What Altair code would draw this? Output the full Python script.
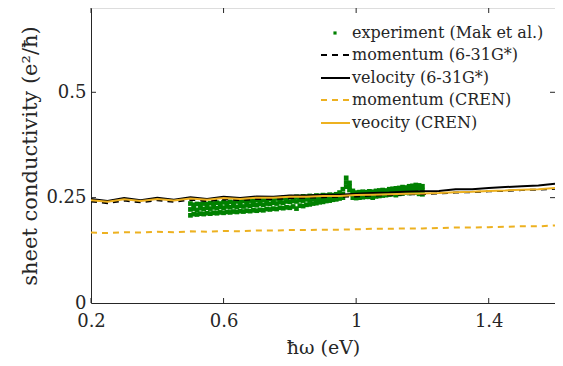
import altair as alt
import pandas as pd

# ---------------- data ----------------
x_calc = [0.20, 0.25, 0.30, 0.35, 0.40, 0.45, 0.50, 0.55, 0.60, 0.65, 0.70, 0.75,
          0.80, 0.85, 0.90, 0.95, 1.00, 1.05, 1.10, 1.15, 1.20, 1.25, 1.30, 1.35,
          1.40, 1.45, 1.50, 1.55, 1.60]
vel_631 = [0.247, 0.242, 0.249, 0.244, 0.250, 0.245, 0.251, 0.247, 0.252, 0.249, 0.253, 0.252,
           0.255, 0.255, 0.257, 0.257, 0.259, 0.261, 0.262, 0.264, 0.265, 0.266, 0.270, 0.270,
           0.273, 0.275, 0.277, 0.279, 0.283]
mom_631 = [0.241, 0.237, 0.243, 0.239, 0.244, 0.240, 0.245, 0.242, 0.246, 0.244, 0.247, 0.247,
           0.249, 0.250, 0.251, 0.252, 0.253, 0.255, 0.256, 0.258, 0.258, 0.260, 0.262, 0.263,
           0.265, 0.266, 0.268, 0.269, 0.271]
vel_cren = [0.244, 0.240, 0.246, 0.242, 0.247, 0.243, 0.248, 0.245, 0.249, 0.247, 0.250, 0.250,
            0.252, 0.252, 0.254, 0.254, 0.256, 0.257, 0.258, 0.259, 0.260, 0.261, 0.263, 0.264,
            0.266, 0.267, 0.269, 0.270, 0.273]
mom_cren = [0.167, 0.166, 0.168, 0.167, 0.169, 0.168, 0.170, 0.169, 0.171, 0.170, 0.172, 0.172,
            0.173, 0.173, 0.174, 0.174, 0.175, 0.176, 0.176, 0.177, 0.177, 0.178, 0.179, 0.179,
            0.180, 0.181, 0.182, 0.182, 0.184]

exp_x = [0.50, 0.51, 0.52, 0.53, 0.54, 0.55, 0.56, 0.57, 0.58, 0.59, 0.60, 0.61, 0.62, 0.63,
         0.64, 0.65, 0.66, 0.67, 0.68, 0.69, 0.70, 0.71, 0.72, 0.73, 0.74, 0.75, 0.76, 0.77,
         0.78, 0.79, 0.80, 0.81, 0.82, 0.83, 0.84, 0.85, 0.86, 0.87, 0.88, 0.89, 0.90, 0.91,
         0.92, 0.93, 0.94, 0.95, 0.96, 0.97, 0.98, 0.99, 1.00, 1.01, 1.02, 1.03, 1.04, 1.05,
         1.06, 1.07, 1.08, 1.09, 1.10, 1.11, 1.12, 1.13, 1.14, 1.15, 1.16, 1.17, 1.18, 1.19, 1.20]
exp_hi = [0.236, 0.233, 0.235, 0.234, 0.236, 0.235, 0.237, 0.236, 0.238, 0.236, 0.239, 0.237,
          0.240, 0.238, 0.241, 0.240, 0.242, 0.240, 0.243, 0.242, 0.244, 0.243, 0.245, 0.244,
          0.247, 0.245, 0.248, 0.247, 0.249, 0.248, 0.251, 0.250, 0.252, 0.251, 0.253, 0.252,
          0.254, 0.253, 0.255, 0.254, 0.256, 0.255, 0.257, 0.256, 0.258, 0.262, 0.270, 0.297,
          0.285, 0.266, 0.262, 0.263, 0.264, 0.263, 0.265, 0.264, 0.266, 0.267, 0.268, 0.267,
          0.270, 0.271, 0.272, 0.273, 0.275, 0.274, 0.277, 0.278, 0.280, 0.279, 0.277]
exp_mid = [0.222, 0.224, 0.221, 0.225, 0.223, 0.226, 0.224, 0.227, 0.225, 0.228, 0.226, 0.229,
           0.227, 0.230, 0.228, 0.231, 0.229, 0.232, 0.231, 0.233, 0.232, 0.235, 0.233, 0.236,
           0.235, 0.238, 0.236, 0.239, 0.238, 0.241, 0.240, 0.242, 0.241, 0.244, 0.243, 0.246,
           0.245, 0.247, 0.246, 0.249, 0.248, 0.250, 0.249, 0.252, 0.251, 0.254, 0.258, 0.286,
           0.276, 0.258, 0.255, 0.257, 0.256, 0.258, 0.257, 0.260, 0.259, 0.261, 0.260, 0.263,
           0.262, 0.265, 0.264, 0.267, 0.266, 0.269, 0.268, 0.271, 0.270, 0.272, 0.268]
exp_lo = [0.208, 0.211, 0.210, 0.212, 0.211, 0.213, 0.212, 0.214, 0.213, 0.215, 0.214, 0.216,
          0.215, 0.217, 0.216, 0.218, 0.217, 0.219, 0.218, 0.220, 0.219, 0.221, 0.220, 0.223,
          0.222, 0.224, 0.223, 0.226, 0.225, 0.227, 0.226, 0.229, 0.224, 0.231, 0.230, 0.233,
          0.234, 0.236, 0.237, 0.239, 0.240, 0.242, 0.243, 0.245, 0.246, 0.248, 0.250, 0.276,
          0.268, 0.250, 0.249, 0.250, 0.251, 0.252, 0.252, 0.250, 0.253, 0.254, 0.255, 0.256,
          0.257, 0.258, 0.256, 0.259, 0.260, 0.262, 0.261, 0.263, 0.262, 0.259, 0.258]

x_ticks = [0.2, 0.6, 1.0, 1.4]
y_ticks = [0, 0.25, 0.5]

legend_labels = ["experiment (Mak et al.)", "momentum (6-31G*)", "velocity (6-31G*)",
                 "momentum (CREN)", "veocity (CREN)"]

# ---------------- style ----------------
W, H = 464, 295
FONT = "DejaVu Serif"
BLACK = "#000000"
ORANGE = "#EDB120"
GREEN = "#008000"
AXIS = "#262626"

xs = alt.Scale(domain=[0.2, 1.6], nice=False, zero=False)
ys = alt.Scale(domain=[0, 0.7], nice=False)

lines_df = pd.DataFrame({"x": x_calc, "vel_631": vel_631, "mom_631": mom_631,
                         "vel_cren": vel_cren, "mom_cren": mom_cren})
exp_df = pd.DataFrame({"x": exp_x * 3, "y": exp_lo + exp_mid + exp_hi})


def line_layer(col, color, dash):
    kw = dict(color=color, strokeWidth=2, clip=True)
    if dash:
        kw["strokeDash"] = [6, 5]
    return alt.Chart(lines_df).mark_line(**kw).encode(
        x=alt.X("x:Q", scale=xs,
                axis=alt.Axis(values=x_ticks, title="ħω (eV)", format=".1~f", grid=False,
                              ticks=False, domainColor=AXIS, labelFontSize=18,
                              titleFontSize=19, labelFont=FONT, titleFont=FONT,
                              titleFontWeight="normal", labelFontWeight="normal",
                              labelColor=AXIS, titleColor=AXIS, labelPadding=9,
                              titlePadding=8, labelFlush=False)),
        y=alt.Y(f"{col}:Q", scale=ys,
                axis=alt.Axis(values=y_ticks, title="sheet conductivity (e²/ħ)", format=".2~f",
                              grid=False, ticks=False, domainColor=AXIS, labelFontSize=18,
                              titleFontSize=21, labelFont=FONT, titleFont=FONT,
                              titleFontWeight="normal", labelFontWeight="normal",
                              labelColor=AXIS, titleColor=AXIS, labelPadding=5,
                              titlePadding=5)),
    )


exp_layer = alt.Chart(exp_df).mark_square(color=GREEN, size=22, opacity=1).encode(
    x=alt.X("x:Q", scale=xs), y=alt.Y("y:Q", scale=ys))

layers = [
    exp_layer,
    line_layer("mom_cren", ORANGE, True),
    line_layer("mom_631", BLACK, True),
    line_layer("vel_631", BLACK, False),
    line_layer("vel_cren", ORANGE, False),
]

# inward ticks
xt = pd.DataFrame({"t": x_ticks})
yt = pd.DataFrame({"t": y_ticks[1:]})
for y0, y1 in [(H, H - 5), (0, 5)]:
    layers.append(alt.Chart(xt).mark_rule(color=AXIS, strokeWidth=1).encode(
        x=alt.X("t:Q", scale=xs), y=alt.value(y0), y2=alt.value(y1)))
for x0, x1 in [(0, 5), (W, W - 5)]:
    layers.append(alt.Chart(yt).mark_rule(color=AXIS, strokeWidth=1).encode(
        y=alt.Y("t:Q", scale=ys), x=alt.value(x0), x2=alt.value(x1)))

# manual legend
leg_rows = [25, 47, 70, 92, 115]
leg_style = [("point", GREEN, False), ("line", BLACK, True), ("line", BLACK, False),
             ("line", ORANGE, True), ("line", ORANGE, False)]
one = pd.DataFrame({"a": [0]})
for lab, yy, (kind, col, dash) in zip(legend_labels, leg_rows, leg_style):
    if kind == "point":
        layers.append(alt.Chart(one).mark_square(color=GREEN, size=10, opacity=1).encode(
            x=alt.value(244), y=alt.value(yy)))
    else:
        kw = dict(color=col, strokeWidth=2)
        if dash:
            kw["strokeDash"] = [6, 5]
        layers.append(alt.Chart(one).mark_rule(**kw).encode(
            x=alt.value(230), x2=alt.value(259), y=alt.value(yy)))
    layers.append(alt.Chart(one).mark_text(align="left", baseline="middle", font=FONT,
                                           fontSize=16, color=AXIS).encode(
        x=alt.value(261), y=alt.value(yy), text=alt.value(lab)))

chart = alt.layer(*layers).properties(
    width=W, height=H,
    autosize=alt.AutoSizeParams(type="none"),
    padding={"left": 83, "top": 0, "right": 0, "bottom": 55},
).configure_view(stroke="#9a9a9a", strokeWidth=1).configure(background="white")

chart.save("out.html", embed_options={"renderer": "svg", "actions": False})
